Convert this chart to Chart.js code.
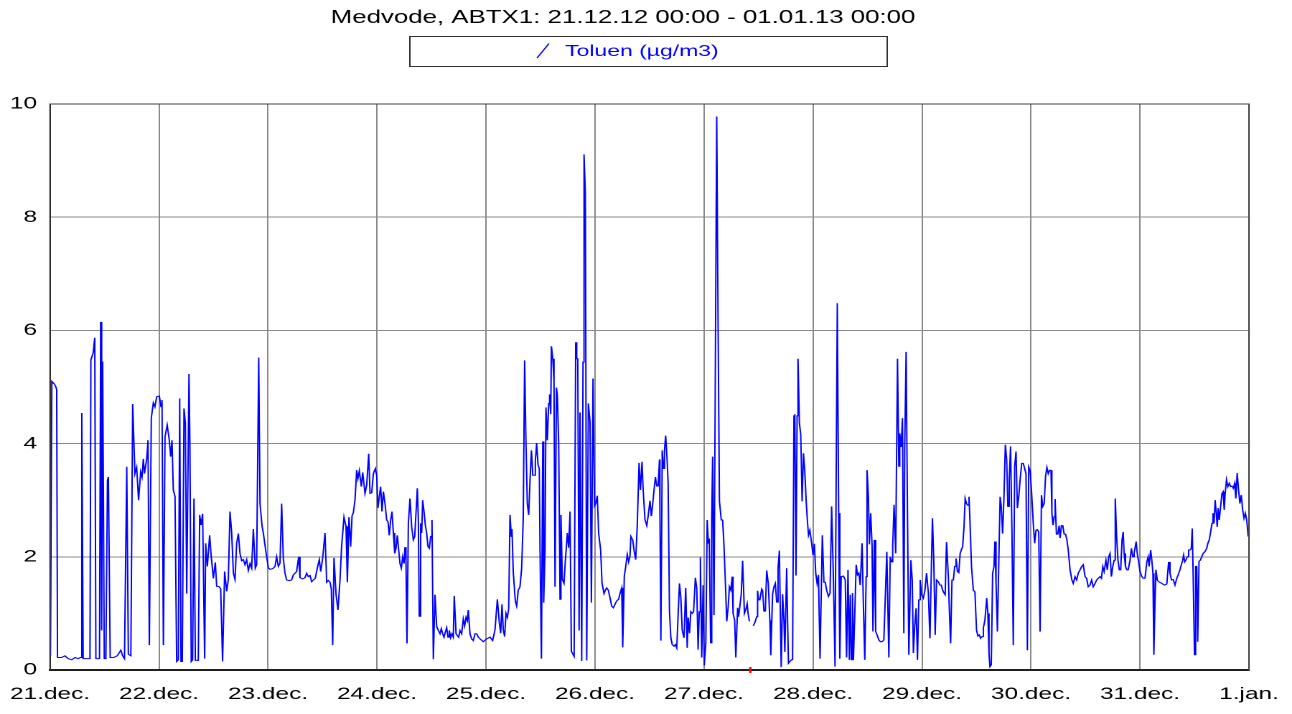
<!DOCTYPE html>
<html><head><meta charset="utf-8">
<script src="https://cdn.jsdelivr.net/npm/chart.js@4.4.1/dist/chart.umd.min.js"></script>
<style>
html,body{margin:0;padding:0;background:#fff;overflow:hidden;width:1292px;height:714px;}
#wrap{position:absolute;left:0;top:0;width:900px;height:714px;transform:scaleX(1.435556);transform-origin:0 0;}
</style></head><body>
<div id="wrap"><canvas id="c" width="900" height="714"></canvas></div>
<script>
const titleText = 'Medvode, ABTX1: 21.12.12 00:00 - 01.01.13 00:00';
const seriesName = 'Toluen (µg/m3)';
const dayLabels = ['21.dec.','22.dec.','23.dec.','24.dec.','25.dec.','26.dec.','27.dec.','28.dec.','29.dec.','30.dec.','31.dec.','1.jan.'];
const yTickValues = [0, 2, 4, 6, 8, 10];
const markerHour = 154.2;

// hours since 21.12.12 00:00
const hours = [
0,0.1,0.4,1.0,1.3,1.47,1.65,2.5,3.3,4.0,
4.8,5.5,6.2,6.7,7.0,7.3,8.0,8.8,9.0,9.5,
9.85,10.1,10.9,11.15,11.37,11.6,11.95,12.3,12.65,12.85,
13.25,14.0,14.8,15.6,16.0,16.4,16.9,17.25,17.8,18.2,
18.7,19.08,19.5,19.96,20.26,20.55,20.8,21.3,21.58,21.87,
22.3,22.75,23.1,23.5,24.07,24.44,24.66,24.96,25.32,25.8,
26.27,26.57,26.86,27.15,27.52,27.89,28.25,28.55,28.84,29.13,
29.5,29.8,30.1,30.6,30.8,31.1,31.4,31.7,32.0,32.65,
32.95,33.25,33.6,34.05,34.27,34.64,35.15,35.5,35.96,36.4,
36.7,37.28,37.58,38.0,38.45,38.9,39.26,39.63,40.0,40.37,
40.73,41.1,41.47,41.83,42.2,42.57,42.93,43.3,43.67,44.04,
44.4,44.77,45.2,45.5,45.95,46.24,46.68,46.97,47.34,47.7,
48.1,48.44,49.03,49.54,49.9,50.27,50.64,51.0,51.37,51.74,
52.1,52.69,53.2,53.57,53.94,54.3,54.75,55.04,55.63,56.14,
56.5,56.87,57.25,57.6,57.97,58.4,58.85,59.3,59.6,60.04,
60.55,60.92,61.28,61.65,61.94,62.24,62.53,62.97,63.4,63.85,
64.2,64.73,65.17,65.47,65.83,66.2,66.5,66.79,67.15,67.52,
67.8,68.1,68.55,68.85,69.36,69.73,70.17,70.46,70.83,71.2,
71.63,71.93,72.2,72.5,72.8,73.1,73.4,73.76,74.13,74.42,
74.7,75.0,75.3,75.6,75.9,76.18,76.47,76.77,77.06,77.35,
77.65,77.94,78.16,78.38,78.6,78.9,79.26,79.63,80.0,80.3,
80.58,80.88,81.1,81.3,81.6,81.83,82.05,82.35,82.64,82.93,
83.23,83.52,83.82,84.1,84.4,84.77,85.14,85.5,85.87,86.16,
86.46,86.75,87.04,87.34,87.63,87.92,88.2,88.5,88.8,89.0,
89.4,89.68,89.98,90.27,90.64,91.0,91.3,91.6,91.88,92.1,
92.47,92.84,93.2,93.57,93.95,94.3,94.68,95.4,96.15,96.9,
97.46,97.98,98.5,98.93,99.23,99.52,99.8,100.1,100.4,100.7,
101.0,101.28,101.57,101.72,102.0,102.45,102.75,103.1,103.48,103.85,
104.2,104.5,104.8,105.1,105.4,105.7,106.0,106.3,106.6,106.86,
107.15,107.45,107.73,107.9,108.2,108.5,108.7,108.99,109.2,109.5,
109.8,110.0,110.25,110.4,110.7,110.97,111.2,111.5,111.7,112.0,
112.3,112.5,112.8,113.17,113.46,113.9,114.2,114.5,114.8,115.1,
115.4,115.75,115.97,116.2,116.5,116.7,117.07,117.36,117.58,117.87,
118.17,118.53,118.9,119.2,119.56,119.9,120.2,120.5,120.8,121.25,
121.54,121.98,122.27,122.57,122.93,123.3,123.67,124.03,124.4,124.77,
125.2,125.5,125.87,126.1,126.45,126.8,127.1,127.4,127.7,127.9,
128.3,128.6,128.96,129.3,129.7,130.0,130.35,130.6,131.0,131.4,
131.7,132.1,132.4,132.7,133.0,133.3,133.6,133.9,134.2,134.3,
134.5,134.8,135.1,135.3,135.55,135.85,136.1,136.4,136.7,137.0,
137.4,137.7,138.0,138.3,138.6,138.9,139.2,139.6,139.97,140.3,
140.5,140.8,141.1,141.4,141.7,142.1,142.4,142.7,142.95,143.2,
143.5,143.8,144.05,144.4,144.7,144.95,145.16,145.46,145.7,145.9,
146.2,146.5,146.8,147.1,147.4,147.8,148.1,148.4,148.8,149.0,
149.3,149.6,149.9,150.2,150.4,150.75,151.0,151.4,151.6,151.9,
152.2,152.5,152.9,153.2,153.5,153.7,154.0,154.4,154.85,155.2,
155.6,155.8,156.0,156.3,156.7,156.9,157.2,157.5,157.8,158.15,
158.5,158.7,159.1,159.4,159.7,160.0,160.3,160.6,160.8,161.0,
161.3,161.6,161.8,162.2,162.4,162.6,162.9,163.3,163.5,163.8,
164.0,164.25,164.5,164.7,165.0,165.3,165.6,165.9,166.2,166.5,
166.7,167.0,167.3,167.7,168.0,168.3,168.6,168.9,169.2,169.55,
170.05,170.4,170.7,171.0,171.4,171.75,172.1,172.5,172.85,173.1,
173.35,173.65,173.9,174.2,174.7,175.1,175.4,175.7,176.0,176.2,
176.45,176.7,176.9,177.2,177.5,177.8,178.1,178.4,178.8,179.1,
179.4,179.7,179.9,180.2,180.4,180.7,181.0,181.2,181.5,181.8,
182.1,182.5,182.85,183.2,183.6,183.9,184.25,184.7,185.0,185.3,
185.55,185.85,186.2,186.6,186.9,187.1,187.4,187.7,188.0,188.2,
188.5,188.8,189.1,189.55,189.85,190.1,190.4,190.7,191.0,191.3,
191.6,191.9,192.3,192.65,193.0,193.4,193.75,194.05,194.3,194.6,
194.9,195.2,195.6,195.95,196.25,196.55,196.85,197.1,197.4,197.8,
198.0,198.3,198.6,198.9,199.2,199.5,199.8,200.1,200.4,200.65,
200.95,201.25,201.5,201.8,202.05,202.35,202.55,202.9,203.3,203.65,
204.0,204.3,204.6,204.9,205.2,205.5,205.85,206.25,206.5,206.75,
206.95,207.25,207.55,207.85,208.05,208.3,208.6,208.9,209.2,209.45,
209.75,210.05,210.35,210.65,210.9,211.2,211.5,211.8,212.1,212.4,
212.7,213.0,213.3,213.6,213.95,214.3,214.6,214.9,215.2,215.5,
215.8,216.1,216.5,216.8,217.1,217.4,217.7,218.0,218.3,218.6,
218.9,219.2,219.5,219.8,220.1,220.4,220.6,220.85,221.1,221.3,
221.6,221.9,222.2,222.4,222.7,223.0,223.3,223.6,223.9,224.2,
224.6,225.0,225.3,225.7,226.05,226.4,226.8,227.15,227.5,227.9,
228.25,228.6,229.0,229.35,229.7,230.1,230.45,230.8,231.2,231.5,
231.8,232.1,232.5,232.8,233.1,233.4,233.7,234.0,234.3,234.55,
234.85,235.15,235.45,235.75,236.05,236.3,236.5,236.8,237.1,237.4,
237.8,238.1,238.4,238.7,239.15,239.4,239.75,240.0,240.4,240.7,
241.1,241.5,241.8,242.0,242.35,242.6,242.85,243.05,243.3,243.5,
243.8,244.1,244.6,245.0,245.4,245.9,246.3,246.6,246.95,247.3,
247.7,248.1,248.4,248.8,249.1,249.4,249.6,249.85,250.1,250.4,
250.7,251.0,251.3,251.5,251.7,252.0,252.25,252.5,252.7,253.0,
253.3,253.6,253.9,254.3,254.7,254.95,255.25,255.55,255.85,256.05,
256.3,256.55,256.8,257.0,257.2,257.45,257.75,258.05,258.3,258.55,
258.75,259.05,259.35,259.65,259.95,260.25,260.55,260.85,261.1,261.4,
261.7,262.0,262.3,262.6,262.9,263.2,263.5,263.8,264.0
];

// toluene concentration, µg/m3 (null = missing)
const toluene = [
1.6,0.25,5.1,5.05,5.0,4.95,0.22,0.22,0.25,0.2,
0.18,0.22,0.2,0.22,4.54,0.2,0.2,0.2,5.48,5.6,
5.87,0.2,0.2,6.15,0.7,5.45,0.2,0.2,3.35,3.41,
0.22,0.22,0.25,0.35,0.25,0.2,3.59,0.28,0.25,4.7,
3.47,3.58,3.0,3.5,3.41,3.73,3.47,3.74,4.06,0.44,
4.45,4.72,4.65,4.83,4.84,4.65,4.77,0.44,4.12,4.33,
4.06,3.77,4.06,3.18,3.07,0.15,0.18,4.8,0.15,0.18,
4.62,4.36,1.35,5.23,4.0,0.15,0.18,3.03,0.17,0.17,
2.74,2.56,2.76,0.2,2.24,1.83,2.38,2.0,1.62,1.9,
1.48,1.47,1.43,0.15,1.74,1.39,1.6,2.8,2.42,1.71,
1.6,2.24,2.41,2.06,1.93,1.95,1.86,1.95,1.76,1.88,
1.8,2.49,1.8,1.86,5.52,2.94,2.55,2.42,2.2,2.0,
1.8,1.78,1.79,1.83,2.0,1.83,1.89,2.94,1.97,1.71,
1.59,1.58,1.59,1.68,1.71,1.74,2.0,1.63,1.61,1.63,
1.71,1.65,1.67,1.56,1.59,1.62,1.8,1.95,1.74,1.98,
2.42,1.55,1.58,1.55,1.43,0.44,1.98,1.34,1.06,1.59,
2.18,2.7,2.54,1.55,2.7,2.18,2.72,2.78,3.0,3.53,
3.38,3.52,3.24,3.49,3.12,3.27,3.82,3.12,3.13,3.47,
3.56,3.44,2.86,3.06,3.24,2.8,3.15,2.94,2.65,2.62,
2.38,2.65,2.8,2.42,2.06,2.15,2.38,2.12,1.88,1.8,
2.0,1.88,2.17,1.94,0.47,2.59,3.03,2.53,2.3,2.36,
2.77,3.21,2.65,0.95,2.59,2.42,3.0,2.8,2.56,2.42,
2.18,2.15,2.36,2.65,0.19,1.33,0.77,0.7,0.64,0.73,
0.64,0.58,0.67,0.75,0.58,0.7,0.57,0.64,0.58,1.31,
0.64,0.61,0.58,0.7,0.64,0.9,0.78,0.93,0.87,1.06,
0.64,0.55,0.52,0.64,0.64,0.58,0.55,0.5,0.55,0.58,
0.52,0.71,1.25,0.84,0.65,1.16,0.71,0.59,1.0,0.93,
1.09,2.74,2.36,2.49,1.73,1.22,1.13,1.41,1.47,1.8,
2.68,5.47,4.01,2.93,2.74,3.37,3.88,3.44,3.44,3.69,
4.01,3.63,3.56,2.11,0.2,4.04,1.19,2.11,4.64,4.06,
4.71,4.87,4.52,5.72,5.5,5.1,1.47,4.99,4.87,4.01,
1.25,2.74,1.6,1.53,1.92,2.42,2.16,2.8,0.33,0.33,
0.24,5.79,5.5,5.5,0.7,4.55,0.16,5.44,9.11,8.44,
0.17,4.71,4.39,1.19,5.15,2.9,2.95,3.08,2.42,2.11,
1.54,1.35,1.41,1.45,1.41,1.28,1.13,1.1,1.16,1.22,
1.25,1.35,1.45,0.4,1.66,1.85,2.04,1.91,2.01,2.36,
2.3,2.11,1.95,2.55,3.66,3.18,3.68,3.18,2.66,2.55,
2.72,2.99,2.72,2.93,3.18,3.41,3.25,3.25,3.72,2.72,
0.52,3.88,3.56,3.88,4.14,3.75,3.3,1.03,0.57,0.45,
0.42,0.45,0.39,0.97,1.53,1.28,0.7,0.57,1.45,0.39,
0.93,0.65,1.03,1.0,1.03,1.63,1.45,0.36,1.03,1.99,
0.22,1.5,0.08,0.48,2.65,2.26,2.29,0.48,2.65,3.77,
0.97,5.4,9.78,6.1,2.98,2.65,2.65,2.19,1.34,0.86,
1.09,1.47,1.41,1.65,1.0,0.88,0.22,1.1,0.94,1.13,
1.34,1.93,1.0,1.07,1.17,1.0,0.86,null,0.78,0.84,
0.94,1.4,1.24,1.24,1.43,1.4,1.04,1.04,1.76,1.53,
0.88,0.26,1.34,1.47,1.53,1.2,1.8,2.11,1.0,0.05,
1.34,0.88,0.32,1.8,0.88,0.12,0.15,0.18,0.18,4.49,
4.52,1.67,4.49,5.5,4.36,4.16,2.98,3.83,3.5,2.98,
2.71,2.38,2.47,2.24,2.03,2.23,1.71,1.53,1.68,0.2,
2.38,1.55,1.55,1.41,1.3,1.36,2.89,1.59,0.06,3.36,
6.48,2.77,0.2,1.65,1.66,1.59,0.22,1.77,0.18,1.33,
0.18,1.36,0.18,1.0,1.86,1.68,1.71,1.5,2.24,1.12,
0.18,1.65,3.53,3.06,2.22,2.77,2.2,0.68,2.3,0.68,
0.62,0.53,0.5,0.5,0.53,1.24,2.09,0.22,2.0,1.91,
2.2,2.92,2.06,5.5,3.6,4.18,3.94,4.45,0.65,3.94,
5.62,2.77,0.27,1.94,1.59,0.3,0.78,1.09,0.18,1.24,
1.59,1.33,1.27,1.41,1.71,1.36,0.56,1.77,2.68,1.89,
0.62,1.59,1.56,1.5,1.5,1.41,1.36,1.33,2.26,1.65,
1.12,0.47,1.59,1.59,1.83,1.97,1.74,1.72,2.06,2.12,
2.18,2.53,3.03,2.94,2.91,3.06,2.65,1.83,1.41,1.38,
0.71,0.6,0.62,0.56,0.59,0.74,0.88,1.27,1.0,0.29,
0.06,0.09,1.71,1.83,2.27,1.53,0.68,1.89,3.06,2.89,
2.41,3.06,3.98,3.71,2.89,3.36,3.95,2.47,0.44,3.59,
3.86,2.86,3.06,3.36,3.65,3.65,3.56,3.47,0.35,3.59,
3.53,3.18,2.59,2.24,2.47,2.48,2.44,0.68,3.09,2.89,
2.94,3.42,3.58,3.47,3.53,3.53,2.77,2.56,2.71,3.02,
2.4,2.4,2.55,2.33,2.55,2.55,2.4,2.4,2.3,2.12,
1.77,1.59,1.53,1.65,1.59,1.71,1.77,1.83,1.86,1.65,
1.62,1.47,1.5,1.59,1.47,1.53,1.59,1.62,1.65,1.62,
1.83,1.74,1.94,1.77,2.0,2.06,1.65,1.83,1.94,3.03,
2.36,1.94,1.77,1.77,2.3,2.44,2.06,1.83,1.77,1.77,
1.94,2.15,2.0,2.06,2.27,2.06,1.89,1.74,1.65,1.62,
1.62,1.91,2.0,1.83,2.12,1.94,1.71,0.27,1.18,1.77,
1.59,1.56,1.54,1.52,1.5,1.52,1.91,1.71,1.59,1.6,
1.5,1.62,1.68,1.77,1.86,1.94,2.03,1.91,1.94,2.0,
2.12,2.12,2.15,2.5,1.71,0.27,1.83,1.83,0.5,1.92,
1.94,2.0,2.06,2.09,2.15,2.24,2.3,2.44,2.59,2.77,
2.59,3.0,2.77,2.53,2.86,2.65,2.89,3.12,3.15,2.83,
3.12,3.36,3.24,3.3,3.24,3.25,3.21,3.3,3.03,3.48,
3.18,2.94,3.09,2.83,2.68,2.77,2.65,2.38,2.4
];

const FONT = "'Liberation Sans', Arial, Helvetica, sans-serif";
const n = Math.min(hours.length, toluene.length);
const points = [];
for (let i = 0; i < n; i++) points.push({ x: hours[i], y: toluene[i] });

const decorPlugin = {
  id: 'decor',
  afterDraw(chart) {
    const ctx = chart.ctx;
    const a = chart.chartArea;
    ctx.save();
    // frame
    ctx.strokeStyle = '#404040';
    ctx.lineWidth = 1;
    ctx.strokeRect(a.left, a.top, a.right - a.left, a.bottom - a.top);
    // red marker on x axis
    const mx = chart.scales.x.getPixelForValue(markerHour);
    ctx.strokeStyle = '#ff0000';
    ctx.lineWidth = 1.6;
    ctx.beginPath();
    ctx.moveTo(mx, a.bottom - 3);
    ctx.lineTo(mx, a.bottom + 3);
    ctx.stroke();
    // title
    ctx.fillStyle = '#000';
    ctx.font = '18px ' + FONT;
    ctx.textAlign = 'center';
    ctx.textBaseline = 'middle';
    ctx.fillText(titleText, 434, 18);
    // legend box
    ctx.strokeStyle = '#303030';
    ctx.lineWidth = 1;
    ctx.strokeRect(285.5, 36.5, 332.5, 30);
    ctx.strokeStyle = '#0000ff';
    ctx.lineWidth = 1;
    ctx.beginPath();
    ctx.moveTo(374.1, 58);
    ctx.lineTo(382.4, 43.5);
    ctx.stroke();
    ctx.fillStyle = '#0000ff';
    ctx.font = '16px ' + FONT;
    ctx.textAlign = 'left';
    ctx.fillText(seriesName, 393.6, 51.5);
    ctx.restore();
  }
};

new Chart(document.getElementById('c').getContext('2d'), {
  type: 'line',
  data: {
    datasets: [{
      label: seriesName,
      data: points,
      borderColor: '#0000ff',
      backgroundColor: '#0000ff',
      borderWidth: 1.0,
      pointRadius: 0,
      tension: 0,
      spanGaps: false,
      fill: false
    }]
  },
  options: {
    responsive: false,
    animation: false,
    devicePixelRatio: 2,
    layout: { padding: { top: 104, right: 29.96, bottom: 0, left: 0 } },
    plugins: { legend: { display: false }, title: { display: false }, tooltip: { enabled: false } },
    scales: {
      x: {
        type: 'linear',
        min: 0,
        max: 264,
        grid: { color: '#8a8a8a', lineWidth: 1, drawTicks: false },
        border: { color: '#000', width: 2 },
        ticks: {
          stepSize: 24,
          autoSkip: false,
          maxRotation: 0,
          minRotation: 0,
          padding: 14,
          color: '#000',
          font: { family: FONT, size: 17 },
          callback: (v) => dayLabels[Math.round(v / 24)]
        },
        afterFit: (s) => { s.height = 44; s.paddingLeft = 0; s.paddingRight = 0; }
      },
      y: {
        min: 0,
        max: 10,
        grid: { color: '#8a8a8a', lineWidth: 1, drawTicks: false },
        border: { color: '#000', width: 1 },
        afterBuildTicks: (s) => { s.ticks = yTickValues.map(v => ({ value: v })); },
        ticks: {
          padding: 9,
          color: '#000',
          font: { family: FONT, size: 17 },
          callback: (v) => String(v)
        },
        afterFit: (s) => { s.width = 34.83; s.paddingTop = 0; s.paddingBottom = 0; }
      }
    }
  },
  plugins: [decorPlugin]
});
</script>
</body></html>
